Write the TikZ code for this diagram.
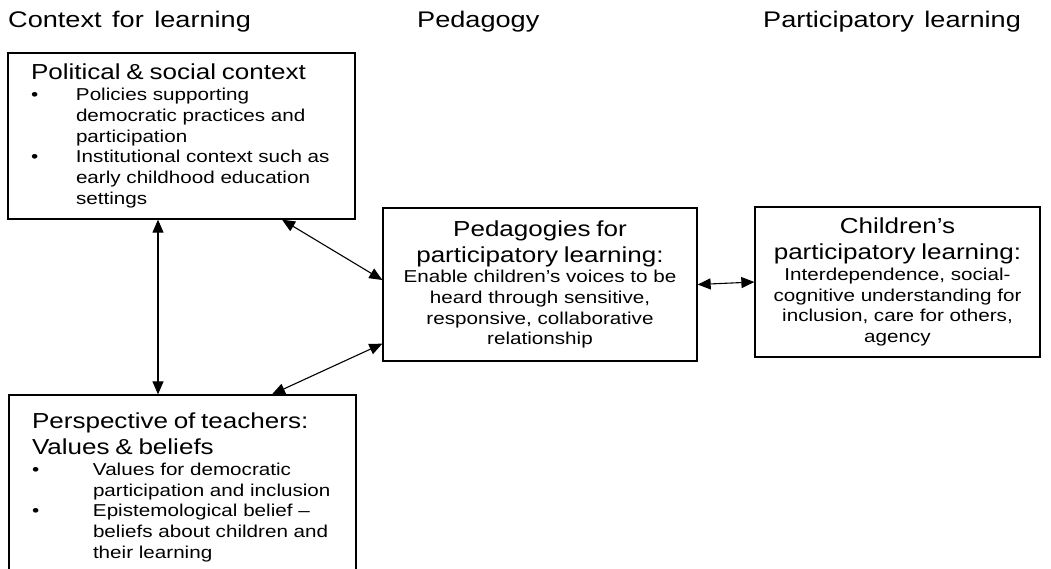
\documentclass[tikz,border=0pt]{standalone}
\usepackage{fontspec}
\setmainfont{Liberation Sans}[FakeStretch=1.2,WordSpace=1.4]
\usetikzlibrary{arrows.meta}
\newcommand{\headf}{\fontsize{22.6}{27}\selectfont}
\newcommand{\titlef}{\fontsize{21.7}{26}\selectfont}
\newcommand{\bodyf}{\fontsize{17.2}{20.7}\selectfont}

\begin{document}
\begin{tikzpicture}[x=1pt,y=-1pt,
    box/.style={draw=black,line width=1.3pt,inner sep=0pt,font=\bodyf},
    link/.style={draw=black,line width=1.1pt,{Triangle[length=13pt,width=11pt]}-{Triangle[length=13pt,width=11pt]}}]
    \clip (0,0) rectangle (1051,569);
    % column headings
    \node[anchor=base west,inner sep=0pt] (hctx) at (8,28) {\headf Context for learning};
    \node[anchor=base west,inner sep=0pt] (hped) at (417,28) {\headf Pedagogy};
    \node[anchor=base west,inner sep=0pt] (hpar) at (763,28) {\headf Participatory learning};
    % boxes
    \node[box,minimum width=347pt,minimum height=166pt,text width=301pt,align=left] (pol) at (181.5,136) {%
        \titlef Political \& social context\\
        \bodyf\makebox[45pt][l]{\textbullet}Policies supporting\\
        \hspace*{45pt}democratic practices and\\
        \hspace*{45pt}participation\\
        \makebox[45pt][l]{\textbullet}Institutional context such as\\
        \hspace*{45pt}early childhood education\\
        \hspace*{45pt}settings};
    \node[box,minimum width=347pt,minimum height=185pt,text width=301pt,align=left] (tea) at (182.5,487.5) {%
        \titlef Perspective of teachers:\\
        Values \& beliefs\\
        \bodyf\makebox[61pt][l]{\textbullet}Values for democratic\\
        \hspace*{61pt}participation and inclusion\\
        \makebox[61pt][l]{\textbullet}Epistemological belief --\\
        \hspace*{61pt}beliefs about children and\\
        \hspace*{61pt}their learning};
    \node[box,minimum width=314pt,minimum height=153pt,text width=300pt,align=center] (ped) at (540,284.5) {%
        \titlef Pedagogies for\\
        participatory learning:\\
        \bodyf Enable children’s voices to be\\
        heard through sensitive,\\
        responsive, collaborative\\
        relationship};
    \node[box,minimum width=285pt,minimum height=150pt,text width=275pt,align=center] (chi) at (897.5,282) {%
        \titlef Children’s\\
        participatory learning:\\
        \bodyf Interdependence, social-\\
        cognitive understanding for\\
        inclusion, care for others,\\
        agency};
    % connectors
    \coordinate (vx) at (158,0);
    \coordinate (dx1) at (282,0);
    \coordinate (dx2) at (272,0);
    \draw[link] (pol.south -| vx) -- (tea.north -| vx);
    \draw[link] (pol.south -| dx1) -- ([yshift=4.5pt]ped.west);
    \draw[link] (tea.north -| dx2) -- ([yshift=18pt]ped.south west);
    \draw[link] (ped.east) -- (chi.west);
\end{tikzpicture}
\end{document}
